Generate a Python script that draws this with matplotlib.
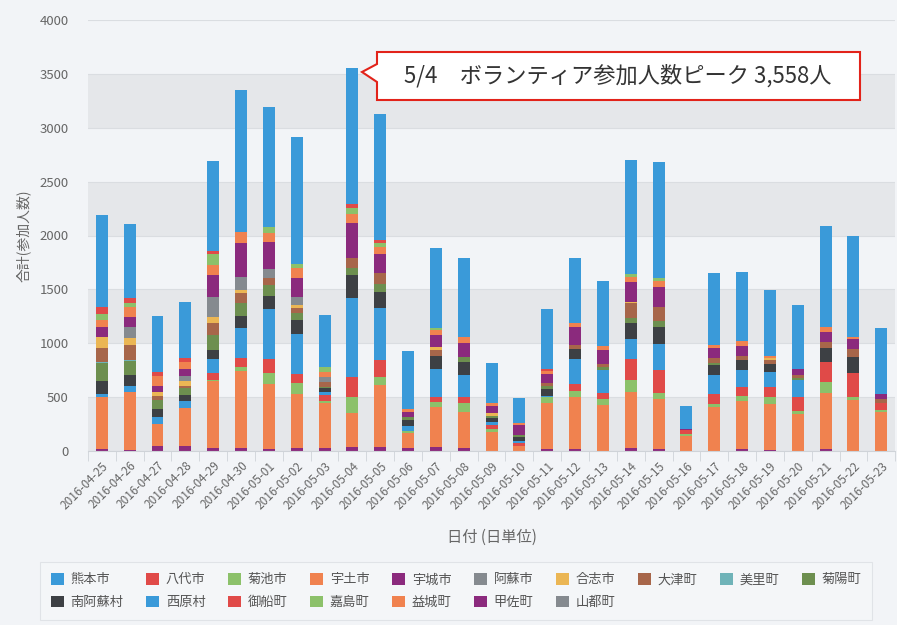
import numpy as np
import matplotlib.pyplot as plt
from matplotlib.patches import Polygon

plt.rcParams['font.family'] = ['Noto Sans CJK JP', 'DejaVu Sans']

dates = ['2016-04-25', '2016-04-26', '2016-04-27', '2016-04-28', '2016-04-29', '2016-04-30',
         '2016-05-01', '2016-05-02', '2016-05-03', '2016-05-04', '2016-05-05', '2016-05-06',
         '2016-05-07', '2016-05-08', '2016-05-09', '2016-05-10', '2016-05-11', '2016-05-12',
         '2016-05-13', '2016-05-14', '2016-05-15', '2016-05-16', '2016-05-17', '2016-05-18',
         '2016-05-19', '2016-05-20', '2016-05-21', '2016-05-22', '2016-05-23']

# values per municipality
kumamoto = [850, 684, 517, 520, 830, 1315, 1110, 1185, 480, 1267, 1170, 541, 742, 727, 365, 226,
            560, 609, 606, 1055, 1075, 207, 665, 640, 612, 594, 934, 934, 612]
yatsushiro = [71, 46, 40, 40, 31, 0, 0, 0, 0, 40, 25, 0, 0, 0, 0, 0, 15, 0, 0, 0, 0, 0, 0, 0, 0, 0, 0, 0, 0]
kikuchi = [52, 43, 0, 0, 99, 0, 62, 37, 46, 53, 37, 0, 15, 0, 0, 0, 0, 0, 0, 25, 22, 0, 0, 0, 0, 0, 0, 0, 0]
uto = [62, 93, 93, 59, 99, 108, 80, 93, 46, 80, 68, 25, 46, 62, 31, 22, 31, 31, 37, 46, 56, 0, 31, 49,
       22, 0, 46, 25, 0]
uki = [93, 93, 56, 71, 201, 309, 254, 176, 0, 331, 179, 53, 114, 124, 68, 93, 87, 170, 130, 186, 186,
       12, 93, 90, 0, 56, 93, 93, 46]
aso = [0, 102, 0, 40, 189, 124, 84, 71, 46, 0, 0, 0, 0, 0, 0, 0, 0, 0, 0, 0, 0, 0, 0, 0, 0, 0, 0, 0, 0]
koshi = [100, 62, 37, 46, 53, 31, 0, 31, 0, 0, 0, 0, 25, 0, 25, 0, 0, 0, 0, 15, 0, 0, 0, 0, 15, 0, 0, 0, 0]
ozu = [130, 139, 31, 20, 108, 87, 62, 46, 46, 93, 99, 0, 56, 0, 0, 0, 25, 37, 31, 139, 130, 0, 46, 40,
       37, 31, 62, 68, 31]
misato = [15, 15, 0, 0, 0, 0, 0, 0, 0, 0, 0, 0, 0, 0, 0, 0, 0, 0, 0, 0, 0, 0, 0, 0, 0, 0, 0, 0, 0]
kikuyo = [165, 124, 87, 62, 145, 124, 102, 62, 15, 62, 71, 25, 0, 46, 22, 22, 31, 0, 25, 46, 56, 0, 15,
          0, 0, 15, 0, 0, 0]
minamiaso = [120, 102, 74, 62, 77, 114, 124, 130, 37, 216, 155, 56, 124, 124, 31, 34, 62, 96, 0, 148,
             164, 0, 93, 93, 71, 0, 130, 155, 0]
nishihara = [25, 53, 62, 62, 133, 278, 464, 374, 25, 727, 480, 43, 254, 207, 31, 22, 12, 232, 210, 186,
             238, 0, 176, 155, 139, 161, 0, 0, 0]
mifune = [0, 0, 0, 0, 62, 77, 124, 84, 53, 192, 155, 0, 53, 56, 40, 25, 0, 59, 62, 192, 210, 37, 96, 84,
          99, 127, 179, 217, 68]
kashima = [0, 0, 0, 0, 15, 37, 108, 102, 25, 148, 77, 25, 46, 77, 22, 0, 49, 62, 53, 108, 62, 19, 22, 46,
           62, 28, 108, 31, 15]
mashiki = [485, 547, 210, 350, 619, 721, 603, 501, 418, 309, 572, 139, 371, 340, 179, 46, 430, 482, 427,
           526, 464, 139, 411, 448, 427, 343, 517, 473, 365]
kosa = [20, 5, 43, 50, 28, 25, 15, 25, 25, 40, 40, 25, 34, 25, 0, 0, 19, 15, 0, 25, 15, 0, 0, 19, 9, 0,
        19, 0, 0]
yamato = [0] * 29

# legend order (top of the stack first)
names = ['熊本市', '八代市', '菊池市', '宇土市', '宇城市', '阿蘇市', '合志市', '大津町', '美里町', '菊陽町',
         '南阿蘇村', '西原村', '御船町', '嘉島町', '益城町', '甲佐町', '山都町']
series = [kumamoto, yatsushiro, kikuchi, uto, uki, aso, koshi, ozu, misato, kikuyo,
          minamiaso, nishihara, mifune, kashima, mashiki, kosa, yamato]
colors = ['#3a9ad9', '#e04a48', '#8cc16a', '#f0824f', '#8b2a7d', '#858a8f', '#ebb654', '#a7664a',
          '#6fb3b8', '#6d8f4f', '#3d4044', '#3a9ad9', '#e04a48', '#8cc16a', '#f0824f', '#8b2a7d', '#858a8f']

fig = plt.figure(figsize=(8.97, 6.25), dpi=100, facecolor='#f2f4f7')
ax = fig.add_axes([0.098, 0.2784, 0.9, 0.6896])
ax.set_facecolor('#f2f4f7')

# alternating bands
for lo in range(0, 4000, 1000):
    ax.axhspan(lo, lo + 500, color='#e5e7ea', zorder=0, lw=0)
for v in range(0, 4001, 500):
    ax.axhline(v, color='#dadde1', lw=0.8, zorder=0.5)

x = np.arange(len(dates))
bottom = np.zeros(len(dates))
handles = {}
for name, vals, c in reversed(list(zip(names, series, colors))):
    vals = np.array(vals, dtype=float)
    b = ax.bar(x, vals, bottom=bottom, width=0.43, color=c, label=name, zorder=2, lw=0)
    handles[name] = b
    bottom += vals

ax.set_xlim(-0.5, len(dates) - 0.5)
ax.set_ylim(0, 4000)
ax.set_yticks(range(0, 4001, 500))
ax.tick_params(axis='y', length=0, labelsize=9.5, labelcolor='#666666', pad=14)
ax.set_xticks(x)
ax.set_xticklabels(dates, rotation=45, ha='right', rotation_mode='anchor', fontsize=8.5, color='#666666')
ax.tick_params(axis='x', length=0, pad=6)
ax.set_xticks(np.arange(-0.5, len(dates), 1), minor=True)
ax.tick_params(axis='x', which='minor', length=7, color='#cfd3d8')
for s in ['top', 'right', 'left']:
    ax.spines[s].set_visible(False)
ax.spines['bottom'].set_color('#cfd3d8')

ax.set_ylabel('合計(参加人数)', fontsize=10, color='#666666', labelpad=6)
ax.set_xlabel('日付 (日単位)', fontsize=11, color='#666666', labelpad=12)

# callout for the peak
W, H = 897, 625
pts = [(377, 52), (860, 52), (860, 100), (377, 100), (377, 82), (362, 72), (377, 64)]
poly = Polygon([(px / W, 1 - py / H) for px, py in pts], closed=True, transform=fig.transFigure,
               facecolor='white', edgecolor='#e2231a', lw=1.5, zorder=10)
fig.patches.append(poly)
fig.text(618 / W, 1 - 76 / H, '5/4　ボランティア参加人数ピーク 3,558人', ha='center', va='center',
         fontsize=16, color='#333333', zorder=11)

# legend laid out row by row (matplotlib fills columns first)
order = []
for j in range(10):
    order.append(j)
    if j + 10 < len(names):
        order.append(j + 10)
leg = fig.legend([handles[names[i]] for i in order], [names[i] for i in order], loc='center',
                 bbox_to_anchor=(456 / W, 1 - 591 / H), ncol=10, fontsize=9.5, frameon=True,
                 fancybox=False, edgecolor='#dcdfe3', facecolor='#f5f7f9', handlelength=1.0,
                 handleheight=1.0, handletextpad=0.5, columnspacing=1.7, labelcolor='#555555',
                 borderpad=0.8, labelspacing=0.7)
leg.get_frame().set_linewidth(0.8)

fig.savefig('out.png', dpi=100, facecolor=fig.get_facecolor())
